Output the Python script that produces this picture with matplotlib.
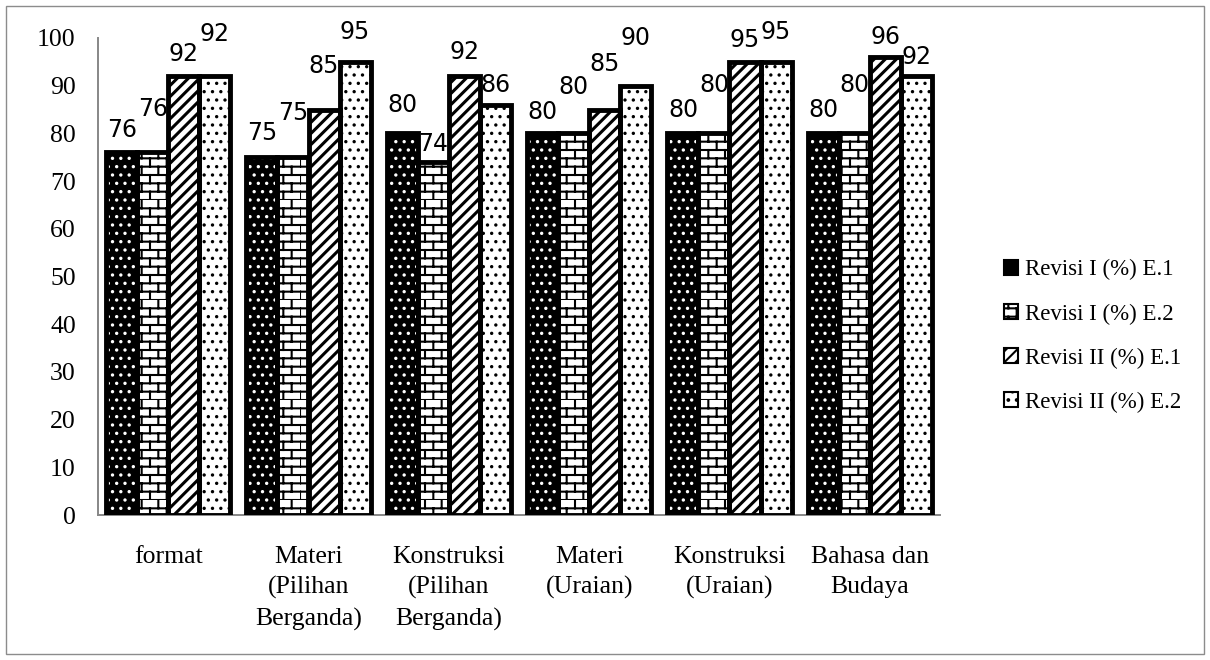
#---Grouped bar chart of revision scores (Revisi I / Revisi II, E.1 / E.2)---
import warnings
import numpy as np
import matplotlib
matplotlib.use("Agg")
import matplotlib.pyplot as plt
import matplotlib.hatch as mhatch
from matplotlib.path import Path
from matplotlib.patches import Patch, Rectangle

warnings.filterwarnings("ignore")

#---Data---------------------------------------------------------------------
categories = ["format", "Materi\n(Pilihan\nBerganda)", "Konstruksi\n(Pilihan\nBerganda)",
              "Materi\n(Uraian)", "Konstruksi\n(Uraian)", "Bahasa dan\nBudaya"]
series_names = ["Revisi I (%) E.1", "Revisi I (%) E.2", "Revisi II (%) E.1", "Revisi II (%) E.2"]
rev1_e1 = [76, 75, 80, 80, 80, 80]
rev1_e2 = [76, 75, 74, 80, 80, 80]
rev2_e1 = [92, 85, 92, 85, 95, 96]
rev2_e2 = [92, 95, 86, 90, 95, 92]
yticks = [0, 10, 20, 30, 40, 50, 60, 70, 80, 90, 100]

# how far (pixels) each value label sits above its bar, per series
label_lift = [[22, 24, 28, 21, 23, 23],
              [43, 44, 18, 46, 48, 48],
              [22, 44, 24, 46, 22, 20],
              [42, 30, 20, 48, 30, 19]]


#---Brick hatch ('b'), added to matplotlib's hatch types-----------------------
class BrickHatch(mhatch.HatchPatternBase):
    def __init__(self, hatch, density):
        n = hatch.count('b')
        self.rows = n * density * 2
        self.per_row = n * density
        self.num_vertices = (self.rows * 2 + self.rows * self.per_row * 2) if n else 0

    def set_vertices_and_codes(self, vertices, codes):
        verts = []
        h = 1.0 / self.rows
        w = 1.0 / self.per_row
        for i in range(self.rows):
            y = i * h
            verts += [(0.0, y), (1.0, y)]
            shift = w / 2 if i % 2 else 0.0
            for k in range(self.per_row):
                x = k * w + shift
                verts += [(x, y), (x, y + h)]
        vertices[:] = np.array(verts)
        codes[0::2] = Path.MOVETO
        codes[1::2] = Path.LINETO


mhatch._hatch_types.append(BrickHatch)
plt.rcParams['hatch.linewidth'] = 1.5

#---Figure-------------------------------------------------------------------
dp = 100
fig = plt.figure(figsize=(12.1, 6.6), dpi=dp)
ax = fig.add_axes([98 / 1210, 1 - 515 / 660, (940 - 98) / 1210, (515 - 38) / 660])

serif = ["Liberation Serif", "DejaVu Serif"]
styles = [  # face, hatch colour, hatch, hatch lw
    ("black", "white", "..", 1.2),
    ("white", "black", "b", 1.5),
    ("white", "black", "///", 2.2),
    ("white", "black", "..", 1.2),
]
values = [rev1_e1, rev1_e2, rev2_e1, rev2_e2]

x = np.arange(len(categories))
bw = 0.221
handles = []
for s, vals in enumerate(values):
    face, hcol, hatch, hlw = styles[s]
    pos = x + (s - 1.5) * bw
    fill = ax.bar(pos, vals, bw, color=face, edgecolor=hcol, hatch=hatch, linewidth=0, zorder=2)
    for p in fill:
        if hasattr(p, "set_hatch_linewidth"):
            p.set_hatch_linewidth(hlw)
    ax.bar(pos, vals, bw, fill=False, edgecolor="black", linewidth=3.5, zorder=3)
    for i, v in enumerate(vals):
        ax.annotate(str(v), xy=(pos[i], v), xytext=(0, label_lift[s][i]),
                    textcoords="offset pixels", ha="center", va="center",
                    fontsize=17, family="DejaVu Sans", color="black")
    handles.append(Patch(facecolor=face, edgecolor="black", hatch=hatch, linewidth=1.5))

ax.set_xlim(-0.5, len(categories) - 0.5)
ax.set_ylim(0, 100)
ax.set_yticks(yticks)
ax.set_yticklabels([str(t) for t in yticks], family=serif, fontsize=18.5)
ax.set_xticks(x)
ax.set_xticklabels(categories, family=serif, fontsize=18.5, linespacing=1.5)
ax.tick_params(axis="y", length=0, pad=16)
ax.tick_params(axis="x", length=0, pad=22)

for side in ["top", "right"]:
    ax.spines[side].set_visible(False)
for side in ["left", "bottom"]:
    ax.spines[side].set_color("#878787")
    ax.spines[side].set_linewidth(1.4)

fig.legend(handles, series_names, loc="center left",
           bbox_to_anchor=(993 / 1210, 1 - 336 / 660), frameon=False,
           prop={"family": serif, "size": 16.5}, handlelength=0.6, handleheight=0.6,
           handletextpad=0.3, labelspacing=1.0, borderpad=0)

# outer frame
fig.add_artist(Rectangle((6 / 1210, 6 / 660), 1 - 12 / 1210, 1 - 12 / 660,
                         transform=fig.transFigure, fill=False, edgecolor="#8c8c8c", linewidth=1.0))

plt.savefig("out.png", dpi=dp)
